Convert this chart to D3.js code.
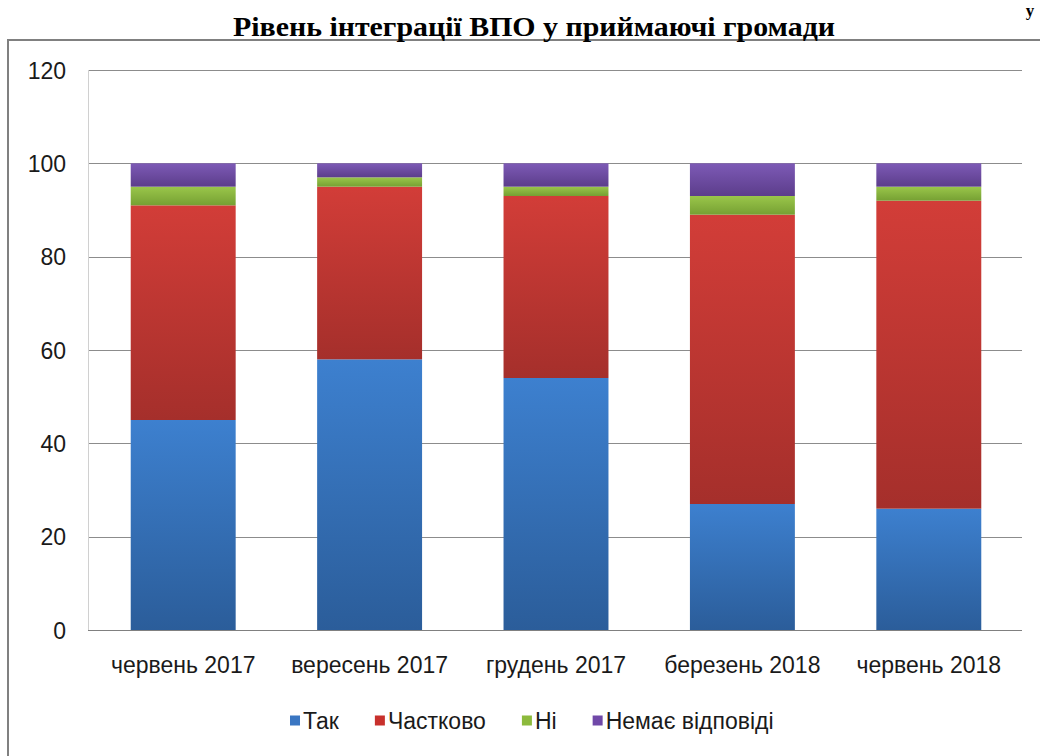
<!DOCTYPE html>
<html>
<head>
<meta charset="utf-8">
<script src="https://cdn.jsdelivr.net/npm/d3@7"></script>
<style>
  html, body { margin: 0; padding: 0; background: #fff; }
  svg { display: block; }
</style>
</head>
<body>
<svg id="chart" width="1040" height="756"></svg>
<script>
// ---- data ----
const categories = ["червень 2017", "вересень 2017", "грудень 2017", "березень 2018", "червень 2018"];
const seriesNames = ["Так", "Частково", "Ні", "Немає відповіді"];
const tak       = [45, 58, 54, 27, 26];
const chastkovo = [46, 37, 39, 62, 66];
const ni        = [4, 2, 2, 4, 3];
const nemaie    = [5, 3, 5, 7, 5];
const yTicks = [0, 20, 40, 60, 80, 100, 120];
const title = "Рівень інтеграції ВПО у приймаючі громади";

// ---- styles ----
const colorsTop    = ["#3d80cf", "#d23d38", "#9ac64a", "#7d5ab6"];
const colorsBottom = ["#2b5d9a", "#a52f2b", "#76a033", "#5c3d8b"];
const legendColors = ["#3a76c2", "#c8302c", "#8cba3c", "#7048a8"];

const svg = d3.select("#chart");

const rows = categories.map((c, i) => ({
  cat: c, "Так": tak[i], "Частково": chastkovo[i], "Ні": ni[i], "Немає відповіді": nemaie[i]
}));
const stacked = d3.stack().keys(seriesNames)(rows);

const x = d3.scaleBand().domain(categories).range([90, 1022]).paddingInner(0.437).paddingOuter(0.2185);
const y = d3.scaleLinear().domain([0, 120]).range([630, 70]);

// gradients
const defs = svg.append("defs");
seriesNames.forEach((s, i) => {
  const g = defs.append("linearGradient").attr("id", "g" + i)
    .attr("x1", 0).attr("y1", 0).attr("x2", 0).attr("y2", 1);
  g.append("stop").attr("offset", "0%").attr("stop-color", colorsTop[i]);
  g.append("stop").attr("offset", "100%").attr("stop-color", colorsBottom[i]);
});

// outer frame
svg.append("rect").attr("x", 8).attr("y", 40).attr("width", 1060).attr("height", 740)
  .attr("fill", "#fff").attr("stroke", "#808080").attr("stroke-width", 2);

// title
svg.append("text").attr("x", 534).attr("y", 36).attr("text-anchor", "middle")
  .attr("font-family", "'Liberation Serif', 'Times New Roman', serif")
  .attr("font-weight", "bold").attr("font-size", 27).attr("fill", "#000")
  .attr("textLength", 602).attr("lengthAdjust", "spacingAndGlyphs")
  .text(title);
// fragment of a preceding line at top-right
svg.append("text").attr("x", 1030).attr("y", 16).attr("text-anchor", "middle")
  .attr("font-family", "'Liberation Serif', serif").attr("font-weight", "bold")
  .attr("font-size", 17).attr("fill", "#000").text("у");

// gridlines
svg.append("g").selectAll("line").data(yTicks.filter(t => t > 0)).join("line")
  .attr("x1", 88).attr("x2", 1022)
  .attr("y1", d => Math.round(y(d)) + 0.5).attr("y2", d => Math.round(y(d)) + 0.5)
  .attr("stroke", "#8c8c8c").attr("stroke-width", 1);

// y axis line (light)
svg.append("line").attr("x1", 88.5).attr("x2", 88.5).attr("y1", y(120)).attr("y2", y(0))
  .attr("stroke", "#d0d0d0").attr("stroke-width", 1);

// y axis labels
const yAxis = d3.axisLeft(y).tickValues(yTicks).tickSize(0).tickPadding(0);
const yg = svg.append("g").attr("transform", "translate(66,0)").call(yAxis);
yg.select(".domain").remove();
yg.selectAll("text").attr("font-family", "'Liberation Sans', Arial, sans-serif")
  .attr("font-size", 23).attr("fill", "#1a1a1a").attr("dy", "0.35em");

// bars
svg.append("g").selectAll("g").data(stacked).join("g")
  .attr("fill", (d, i) => `url(#g${i})`)
  .selectAll("rect").data(d => d).join("rect")
  .attr("x", d => x(d.data.cat))
  .attr("width", x.bandwidth())
  .attr("y", d => y(d[1]))
  .attr("height", d => y(d[0]) - y(d[1]));

// x axis line
svg.append("line").attr("x1", 88).attr("x2", 1022).attr("y1", 630.5).attr("y2", 630.5)
  .attr("stroke", "#808080").attr("stroke-width", 1);

// x labels
const xAxis = d3.axisBottom(x).tickSize(0).tickPadding(0);
const xg = svg.append("g").attr("transform", "translate(0,673)").call(xAxis);
xg.select(".domain").remove();
xg.selectAll("text").attr("dy", 0).attr("font-family", "'Liberation Sans', Arial, sans-serif")
  .attr("font-size", 23).attr("fill", "#1a1a1a");

// legend
const lg = svg.append("g");
let lx = 290;
seriesNames.forEach((s, i) => {
  lg.append("rect").attr("x", lx).attr("y", 715.5).attr("width", 10).attr("height", 10)
    .attr("fill", legendColors[i]);
  const t = lg.append("text").attr("x", lx + 13).attr("y", 729)
    .attr("font-family", "'Liberation Sans', Arial, sans-serif")
    .attr("font-size", 23).attr("fill", "#1a1a1a").text(s);
  lx += 13 + t.node().getComputedTextLength() + 36;
});
</script>
</body>
</html>
